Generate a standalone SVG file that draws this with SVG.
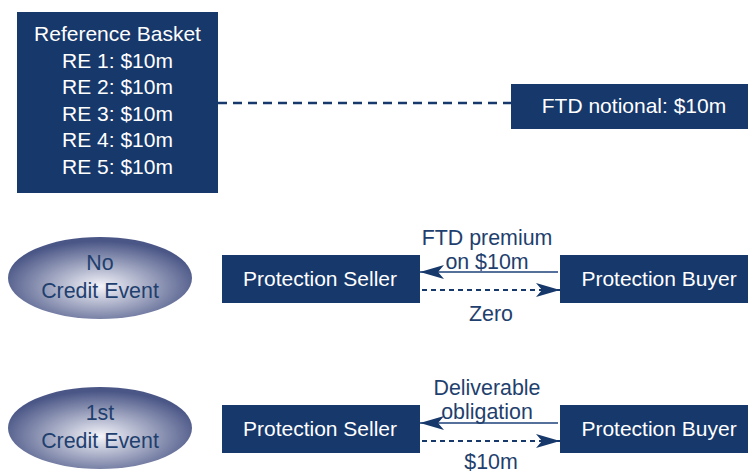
<svg xmlns="http://www.w3.org/2000/svg" width="750" height="473" viewBox="0 0 750 473">
  <style>
    .box { fill: #17386b; }
    .wt { fill: #ffffff; font-family: "Liberation Sans", Arial, sans-serif; font-size: 21px; text-anchor: middle; }
    .lbl { fill: #1f3f6e; font-family: "Liberation Sans", Arial, sans-serif; font-size: 21.4px; text-anchor: middle; }
    .ell { fill: url(#ellGrad); }
    .solid { stroke: #55709a; stroke-width: 2; fill: none; }
    .dash { stroke: #17386b; stroke-width: 2; stroke-dasharray: 5 4; fill: none; }
    .link { stroke: #17386b; stroke-width: 2.5; stroke-dasharray: 9 6; fill: none; }
  </style>
  <defs>
    <radialGradient id="ellGrad" cx="0.5" cy="0.6" r="0.55">
      <stop offset="0" stop-color="#f4f4fa"/>
      <stop offset="1" stop-color="#4a5686"/>
    </radialGradient>
    <marker id="head" viewBox="0 0 24 14" refX="24" refY="7" markerWidth="24" markerHeight="14" markerUnits="userSpaceOnUse" orient="auto">
      <path d="M0,0 L24,7 L0,14 L6,7 Z" fill="#17386b"/>
    </marker>
  </defs>

  <g id="connectors">
    <path class="link" d="M218,103 H511"/>
    <path class="solid" d="M558,272 H420" marker-end="url(#head)"/>
    <path class="dash" d="M422,290 H560" marker-end="url(#head)"/>
    <path class="solid" d="M558,423 H420" marker-end="url(#head)"/>
    <path class="dash" d="M422,441 H560" marker-end="url(#head)"/>
  </g>

  <g id="reference-basket">
    <rect class="box" x="17" y="12" width="201" height="181"/>
    <text class="wt" x="117.5" y="41">Reference Basket</text>
    <text class="wt" x="117.5" y="67.5">RE 1: $10m</text>
    <text class="wt" x="117.5" y="94">RE 2: $10m</text>
    <text class="wt" x="117.5" y="120.5">RE 3: $10m</text>
    <text class="wt" x="117.5" y="147">RE 4: $10m</text>
    <text class="wt" x="117.5" y="173.5">RE 5: $10m</text>
  </g>

  <g id="ftd-notional">
    <rect class="box" x="511" y="84" width="237" height="45"/>
    <text class="wt" x="634" y="113">FTD notional: $10m</text>
  </g>

  <g id="no-credit-event">
    <ellipse class="ell" cx="100" cy="278" rx="92" ry="41"/>
    <text class="lbl" x="100" y="270">No</text>
    <text class="lbl" x="100" y="298">Credit Event</text>
  </g>

  <g id="seller-1">
    <rect class="box" x="222" y="255" width="198" height="48"/>
    <text class="wt" x="320" y="286">Protection Seller</text>
  </g>

  <g id="buyer-1">
    <rect class="box" x="560" y="255" width="188" height="48"/>
    <text class="wt" x="659" y="286">Protection Buyer</text>
  </g>

  <g id="labels-1">
    <text class="lbl" x="487" y="245">FTD premium</text>
    <text class="lbl" x="487" y="269">on $10m</text>
    <text class="lbl" x="491" y="321">Zero</text>
  </g>

  <g id="first-credit-event">
    <ellipse class="ell" cx="100" cy="428" rx="92" ry="41"/>
    <text class="lbl" x="100" y="420">1st</text>
    <text class="lbl" x="100" y="448">Credit Event</text>
  </g>

  <g id="seller-2">
    <rect class="box" x="222" y="405" width="198" height="48"/>
    <text class="wt" x="320" y="436">Protection Seller</text>
  </g>

  <g id="buyer-2">
    <rect class="box" x="560" y="405" width="188" height="48"/>
    <text class="wt" x="659" y="436">Protection Buyer</text>
  </g>

  <g id="labels-2">
    <text class="lbl" x="487" y="395">Deliverable</text>
    <text class="lbl" x="487" y="419">obligation</text>
    <text class="lbl" x="491" y="469">$10m</text>
  </g>
</svg>
